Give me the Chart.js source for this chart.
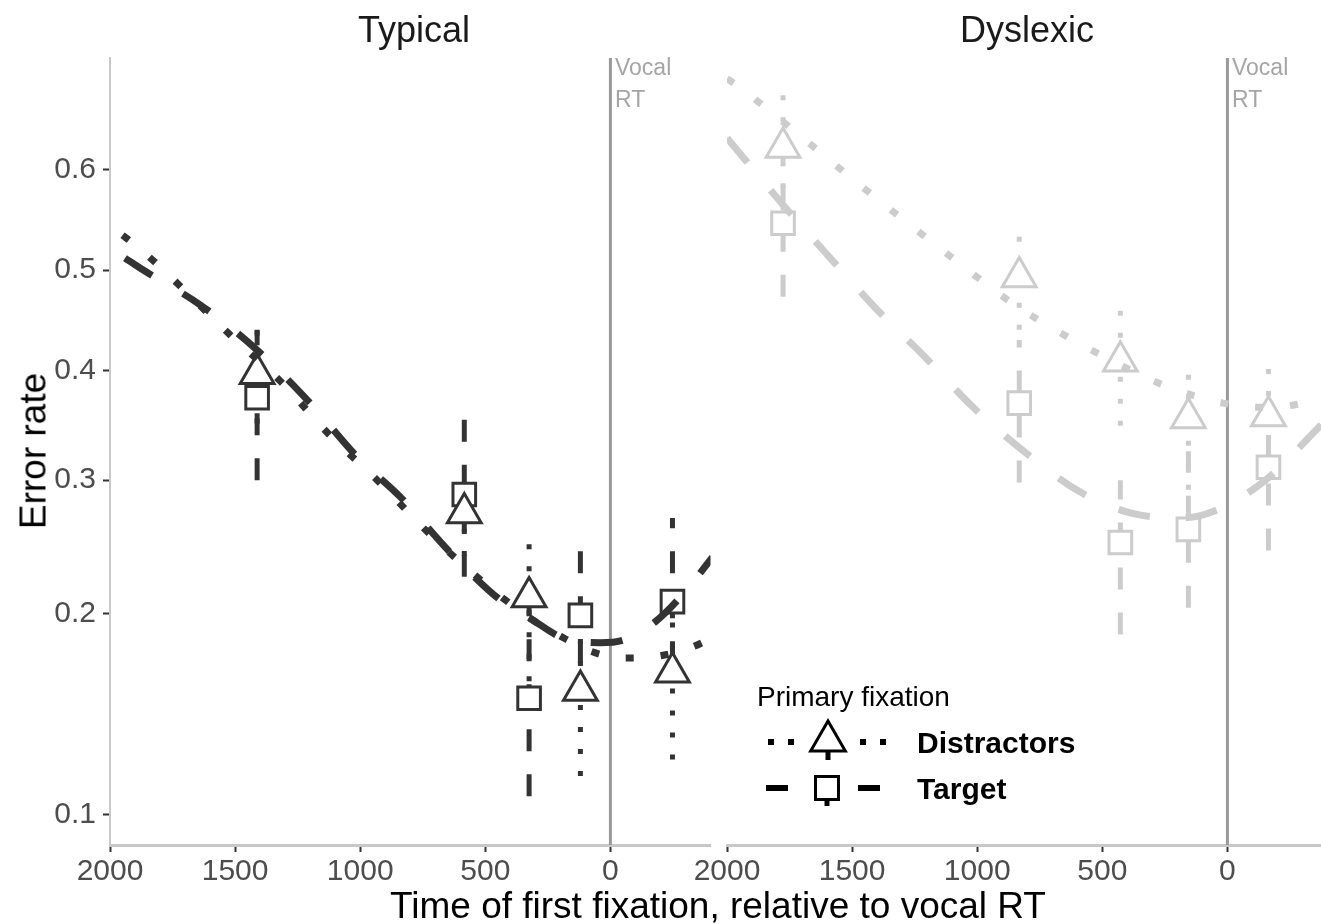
<!DOCTYPE html>
<html lang="en">
<head>
<meta charset="UTF-8">
<title>Error rate by time of first fixation</title>
<script src="https://cdn.jsdelivr.net/npm/chart.js"></script>
<style>
  html, body { margin: 0; padding: 0; background: #fff; overflow: hidden; }
  body { width: 1321px; height: 924px; position: relative;
         font-family: 'Liberation Sans', Arial, Helvetica, sans-serif; }
  canvas { position: absolute; top: 0; }
  .txt { position: absolute; white-space: nowrap; line-height: 1; }
</style>
</head>
<body>
<!-- canvases are a bit wider than the panels: Chart.js keeps room for the big markers -->
<canvas id="typicalChart" width="733" height="924" style="left:0"></canvas>
<canvas id="dyslexicChart" width="704" height="924" style="left:640px"></canvas>

<div class="txt" style="left:414px;top:12px;font-size:36px;color:#1a1a1a;transform:translateX(-50%)">Typical</div>
<div class="txt" style="left:1027px;top:12px;font-size:36px;color:#1a1a1a;transform:translateX(-50%)">Dyslexic</div>
<div class="txt" style="left:615px;top:56px;font-size:23px;color:#a5a5a5">Vocal</div>
<div class="txt" style="left:615px;top:88px;font-size:23px;color:#a5a5a5">RT</div>
<div class="txt" style="left:1232px;top:56px;font-size:23px;color:#a5a5a5">Vocal</div>
<div class="txt" style="left:1232px;top:88px;font-size:23px;color:#a5a5a5">RT</div>
<div class="txt" style="left:718px;top:887px;font-size:37px;color:#000;transform:translateX(-50%)">Time of first fixation, relative to vocal RT</div>
<div class="txt" style="left:33px;top:451px;font-size:37px;color:#000;transform:translate(-50%,-50%) rotate(-90deg)">Error rate</div>
<div class="txt" style="left:757px;top:683px;font-size:28px;color:#000">Primary fixation</div>
<div class="txt" style="left:917px;top:728px;font-size:30px;font-weight:bold;color:#000">Distractors</div>
<div class="txt" style="left:917px;top:774px;font-size:30px;font-weight:bold;color:#000">Target</div>

<script>
// axes
const X_TICKS = [2000, 1500, 1000, 500, 0];
const X_TICK_LABELS = ['2000', '1500', '1000', '500', '0'];
const X_MAX = 2000;
const X_MIN_TYP = -400;
const X_MIN_DYS = -376;
const Y_TICKS = [0.1, 0.2, 0.3, 0.4, 0.5, 0.6];
const Y_TICK_LABELS = ['0.1', '0.2', '0.3', '0.4', '0.5', '0.6'];
const Y_MIN = 0.0896;
const Y_MAX = 0.7016;
const VOCAL_RT = 0;

// Typical readers: binned means with intervals
const TYP_BIN_X    = [1412, 584, 325, 120, -248];
const TYP_DIS_RATE = [0.397, 0.273, 0.211, 0.155, 0.165];
const TYP_DIS_LO   = [0.350, 0.240, 0.160, 0.115, 0.122];
const TYP_DIS_HI   = [0.455, 0.310, 0.260, 0.185, 0.195];
const TYP_TGT_RATE = [0.374, 0.288, 0.151, 0.199, 0.208];
const TYP_TGT_LO   = [0.300, 0.225, 0.107, 0.170, 0.170];
const TYP_TGT_HI   = [0.440, 0.355, 0.205, 0.260, 0.269];

// Typical readers: smooth fits
const TYP_DIS_FIT_X = [1950, 1908, 1808, 1520, 1312, 1120, 932, 720, 520, 320, 200, 80, -48, -188, -320, -408];
const TYP_DIS_FIT   = [0.535, 0.527, 0.505, 0.435, 0.388, 0.339, 0.300, 0.256, 0.223, 0.197, 0.186, 0.177, 0.173, 0.174, 0.179, 0.185];
const TYP_TGT_FIT_X = [1940, 1880, 1640, 1412, 1200, 1012, 840, 632, 432, 320, 192, 40, -60, -180, -280, -408];
const TYP_TGT_FIT   = [0.512, 0.502, 0.465, 0.420, 0.369, 0.320, 0.286, 0.241, 0.208, 0.197, 0.185, 0.182, 0.184, 0.195, 0.211, 0.239];

// Dyslexic readers: binned means with intervals
const DYS_BIN_X    = [1776, 832, 428, 156, -164];
const DYS_DIS_RATE = [0.621, 0.493, 0.409, 0.355, 0.357];
const DYS_DIS_LO   = [0.560, 0.440, 0.348, 0.292, 0.335];
const DYS_DIS_HI   = [0.676, 0.548, 0.462, 0.398, 0.411];
const DYS_TGT_RATE = [0.547, 0.369, 0.250, 0.260, 0.311];
const DYS_TGT_LO   = [0.473, 0.298, 0.187, 0.204, 0.244];
const DYS_TGT_HI   = [0.620, 0.430, 0.300, 0.325, 0.340];

// Dyslexic readers: smooth fits
const DYS_DIS_FIT_X = [2000, 1948, 1728, 1520, 1308, 1088, 868, 640, 520, 276, 148, 16, -120, -260, -376];
const DYS_DIS_FIT   = [0.684, 0.676, 0.636, 0.595, 0.553, 0.510, 0.468, 0.433, 0.417, 0.388, 0.377, 0.369, 0.365, 0.367, 0.373];
const DYS_TGT_FIT_X = [2000, 1768, 1580, 1400, 1208, 1016, 808, 588, 388, 188, 60, -152, -376];
const DYS_TGT_FIT   = [0.630, 0.563, 0.510, 0.460, 0.413, 0.365, 0.324, 0.290, 0.273, 0.269, 0.274, 0.300, 0.349];

const TYP_COLOR = '#333333';
const DYS_COLOR = '#cccccc';

Chart.defaults.font.family = "'Liberation Sans', Arial, sans-serif";

// error rate is shown on a logit axis
function logit(p) { return Math.log(p / (1 - p)); }

function pts(xs, ys) {
    return xs.map((x, i) => ({ x: x, y: logit(ys[i]) }));
}

function ranges(xs, lo, hi) {
    const out = [];
    xs.forEach((x, i) => {
        out.push({ x: x, y: logit(lo[i]) }, { x: x, y: logit(hi[i]) }, { x: x, y: null });
    });
    return out;
}

function buildDatasets(col, binX, disRate, disLo, disHi, tgtRate, tgtLo, tgtHi, disFitX, disFit, tgtFitX, tgtFit) {
    const base = { pointRadius: 0, pointHoverRadius: 0, borderCapStyle: 'butt', tension: 0 };
    return [
        Object.assign({}, base, {
            label: 'Vocal RT',
            data: [{ x: VOCAL_RT, y: logit(Y_MIN) }, { x: VOCAL_RT, y: logit(Y_MAX) }],
            borderColor: '#999999', borderWidth: 3, order: 5
        }),
        Object.assign({}, base, {
            label: 'Distractors range',
            data: ranges(binX, disLo, disHi), spanGaps: false,
            borderColor: col, borderWidth: 5, borderDash: [5, 17], order: 4
        }),
        Object.assign({}, base, {
            label: 'Target range',
            data: ranges(binX, tgtLo, tgtHi), spanGaps: false,
            borderColor: col, borderWidth: 5, borderDash: [22, 23], order: 4
        }),
        {
            label: 'Distractors',
            data: pts(binX, disRate), showLine: false,
            pointStyle: 'triangle', pointRadius: 19.5, pointHoverRadius: 19.5,
            pointBorderWidth: 3, pointBorderColor: col, pointBackgroundColor: '#ffffff', order: 2
        },
        {
            label: 'Target',
            data: pts(binX, tgtRate), showLine: false,
            pointStyle: 'rect', pointRadius: 16, pointHoverRadius: 16,
            pointBorderWidth: 3, pointBorderColor: col, pointBackgroundColor: '#ffffff', order: 2
        },
        Object.assign({}, base, {
            label: 'Distractors fit',
            data: pts(disFitX, disFit), cubicInterpolationMode: 'monotone',
            borderColor: col, borderWidth: 7, borderDash: [8, 27], order: 0
        }),
        Object.assign({}, base, {
            label: 'Target fit',
            data: pts(tgtFitX, tgtFit), cubicInterpolationMode: 'monotone',
            borderColor: col, borderWidth: 7, borderDash: [32, 36], order: 0
        })
    ];
}

function xScale(min) {
    return {
        type: 'linear', reverse: true, min: min, max: X_MAX,
        afterBuildTicks: s => { s.ticks = X_TICKS.map(v => ({ value: v })); },
        afterFit: s => { s.height = 79; s.paddingLeft = 0; s.paddingRight = 0; },
        ticks: { font: { size: 30 }, color: '#4d4d4d', padding: 2, maxRotation: 0, autoSkip: false,
                 callback: (v, i) => X_TICK_LABELS[i] },
        grid: { drawOnChartArea: false, drawTicks: true, tickLength: 7, tickColor: '#333333', tickWidth: 2 },
        border: { display: true, color: '#c8c8c8', width: 3 }
    };
}

function yScale(show) {
    const s = {
        type: 'linear', display: show, min: logit(Y_MIN), max: logit(Y_MAX),
        afterBuildTicks: sc => { sc.ticks = Y_TICKS.map(v => ({ value: logit(v) })); },
        ticks: { font: { size: 30 }, color: '#4d4d4d', padding: 7, autoSkip: false,
                 callback: (v, i) => Y_TICK_LABELS[i] },
        grid: { drawOnChartArea: false, drawTicks: true, tickLength: 7, tickColor: '#333333', tickWidth: 2 },
        border: { display: true, color: '#c8c8c8', width: 2 }
    };
    if (show) {
        s.afterFit = sc => { sc.width = 110; sc.paddingTop = 0; sc.paddingBottom = 0; };
    }
    return s;
}

const commonOptions = {
    responsive: false,
    animation: false,
    events: [],
    plugins: { legend: { display: false }, tooltip: { enabled: false } }
};

// key symbols for the legend (text is in the page)
const RIGHT_OFFSET = 640;
const legendKeys = {
    id: 'legendKeys',
    afterDraw(chart) {
        const ctx = chart.ctx;
        const ox = RIGHT_OFFSET;
        function seg(x1, y1, x2, y2) {
            ctx.beginPath(); ctx.moveTo(x1 - ox, y1); ctx.lineTo(x2 - ox, y2); ctx.stroke();
        }
        ctx.save();
        ctx.strokeStyle = '#000000';
        ctx.fillStyle = '#ffffff';
        ctx.lineCap = 'butt';

        // Distractors row
        ctx.lineWidth = 6;
        ctx.setLineDash([6, 14]);
        seg(768, 742, 796, 742);
        seg(860, 742, 888, 742);
        ctx.setLineDash([]);
        ctx.lineWidth = 5;
        seg(828, 748, 828, 760);
        const r = 20, cx = 828 - ox, cy = 741;
        ctx.beginPath();
        ctx.moveTo(cx, cy - r);
        ctx.lineTo(cx + r * Math.sin(2 * Math.PI / 3), cy + r / 2);
        ctx.lineTo(cx - r * Math.sin(2 * Math.PI / 3), cy + r / 2);
        ctx.closePath();
        ctx.fill();
        ctx.lineWidth = 3;
        ctx.stroke();

        // Target row
        ctx.lineWidth = 6;
        seg(766, 788, 788, 788);
        seg(858, 788, 880, 788);
        ctx.lineWidth = 5;
        seg(827, 795, 827, 806);
        ctx.beginPath();
        ctx.rect(827 - ox - 11.5, 788 - 11.5, 23, 23);
        ctx.fill();
        ctx.lineWidth = 3;
        ctx.stroke();
        ctx.restore();
    }
};

new Chart(document.getElementById('typicalChart'), {
    type: 'line',
    data: {
        datasets: buildDatasets(TYP_COLOR, TYP_BIN_X,
            TYP_DIS_RATE, TYP_DIS_LO, TYP_DIS_HI,
            TYP_TGT_RATE, TYP_TGT_LO, TYP_TGT_HI,
            TYP_DIS_FIT_X, TYP_DIS_FIT, TYP_TGT_FIT_X, TYP_TGT_FIT)
    },
    options: Object.assign({}, commonOptions, {
        layout: { padding: { top: 58, left: 0, right: 0, bottom: 0 } },
        scales: { x: xScale(X_MIN_TYP), y: yScale(true) }
    })
});

new Chart(document.getElementById('dyslexicChart'), {
    type: 'line',
    data: {
        datasets: buildDatasets(DYS_COLOR, DYS_BIN_X,
            DYS_DIS_RATE, DYS_DIS_LO, DYS_DIS_HI,
            DYS_TGT_RATE, DYS_TGT_LO, DYS_TGT_HI,
            DYS_DIS_FIT_X, DYS_DIS_FIT, DYS_TGT_FIT_X, DYS_TGT_FIT)
    },
    options: Object.assign({}, commonOptions, {
        layout: { padding: { top: 58, left: 87, right: 0, bottom: 0 } },
        scales: { x: xScale(X_MIN_DYS), y: yScale(false) }
    }),
    plugins: [legendKeys]
});
</script>
</body>
</html>
